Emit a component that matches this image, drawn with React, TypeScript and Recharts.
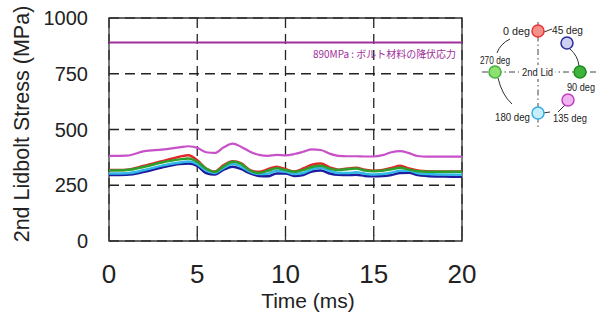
import React from 'react';
import { LineChart, Line, XAxis, YAxis, CartesianGrid, ReferenceLine, ReferenceArea, Label } from 'recharts';

const times = [0, 1, 2, 3, 4, 4.5, 5, 5.5, 6, 6.5, 7, 7.5, 8, 8.5, 9, 9.5, 10, 10.5, 11, 11.5, 12, 12.5, 13, 13.5, 14, 14.5, 15, 15.5, 16, 16.5, 17, 17.5, 18, 19, 20];

const deg0 = [318, 320, 338, 358, 378, 385, 362, 325, 312, 340, 358, 348, 318, 310, 322, 333, 322, 312, 325, 342, 348, 330, 320, 325, 328, 320, 315, 318, 328, 337, 325, 316, 313, 312, 312];
const deg45 = [296, 297, 310, 330, 345, 347, 337, 305, 298, 320, 333, 322, 303, 292, 290, 303, 303, 292, 296, 312, 316, 303, 297, 296, 297, 292, 290, 291, 296, 305, 306, 296, 292, 289, 288];
const deg90 = [316, 318, 333, 352, 366, 370, 355, 325, 310, 335, 355, 345, 315, 305, 315, 326, 318, 310, 318, 332, 337, 325, 318, 322, 325, 316, 313, 315, 322, 328, 320, 313, 311, 311, 310];
const deg135 = [382, 383, 403, 410, 420, 425, 418, 398, 395, 420, 437, 422, 400, 386, 382, 386, 384, 390, 400, 411, 408, 392, 382, 380, 380, 379, 379, 385, 398, 403, 394, 381, 378, 378, 378];
const deg180 = [303, 304, 318, 338, 352, 356, 345, 315, 305, 328, 345, 333, 310, 300, 302, 315, 310, 300, 305, 322, 328, 315, 305, 305, 308, 302, 298, 300, 306, 315, 315, 304, 300, 298, 297];

const xTicks = [0, 5, 10, 15, 20];
const yTicks = [0, 250, 500, 750, 1000];
const yieldStress = 890;
const yieldLabel = '890MPa : ボルト材料の降伏応力';

const data = times.map((t, i) => ({
  t,
  d0: deg0[i],
  d45: deg45[i],
  d90: deg90[i],
  d135: deg135[i],
  d180: deg180[i],
}));

const FONT = '"Liberation Sans", Arial, sans-serif';

const XTick = (props: any) => {
  const { x, y, payload } = props;
  return (
    <g>
      <line x1={x} y1={y} x2={x} y2={y - 6} stroke="#333" strokeWidth={1.3} />
      <text x={x} y={y + 42} textAnchor="middle" fontSize={26} fill="#222" fontFamily={FONT}>
        {payload.value}
      </text>
    </g>
  );
};

function LidDiagram() {
  const lbl = { fontSize: 10.5, fill: '#222', fontFamily: FONT, lengthAdjust: 'spacingAndGlyphs' as const };
  return (
    <svg width={129} height={140} viewBox="470 0 129 140" style={{ position: 'absolute', left: 470, top: 0 }}>
      <line x1={538} y1={22} x2={538} y2={128} stroke="#444" strokeWidth={1} strokeDasharray="6 3 1.5 3" />
      <line x1={482} y1={72} x2={599} y2={72} stroke="#444" strokeWidth={1} strokeDasharray="6 3 1.5 3" />
      <path d="M510 39 Q500 44 497 53" stroke="#333" fill="none" />
      <path d="M570 49 Q578 56 579 66" stroke="#333" fill="none" />
      <path d="M498 78 Q502 95 512 104" stroke="#333" fill="none" />
      <line x1={544} y1={32} x2={552} y2={29} stroke="#333" />
      <line x1={565} y1={105} x2={558} y2={112} stroke="#333" />
      <line x1={543} y1={113} x2={550} y2={112} stroke="#333" />
      <rect x={519} y={65} width={36} height={14} fill="#fff" />
      <circle cx={538} cy={31} r={6} fill="#f4928a" stroke="#e8343a" strokeWidth={1.5} />
      <circle cx={567} cy={43} r={6} fill="#cfd0f2" stroke="#2c2c9c" strokeWidth={1.5} />
      <circle cx={580} cy={72} r={6} fill="#3cb43c" stroke="#1e8a1e" strokeWidth={1.5} />
      <circle cx={568} cy={100} r={6} fill="#f0b4f0" stroke="#c040c0" strokeWidth={1.5} />
      <circle cx={538} cy={113} r={6} fill="#c8eefc" stroke="#38aee0" strokeWidth={1.5} />
      <circle cx={495} cy={72} r={6} fill="#8ee070" stroke="#48b040" strokeWidth={1.5} />
      <text x={503} y={35} textLength={27} {...lbl}>0 deg</text>
      <text x={552} y={34} textLength={31} {...lbl}>45 deg</text>
      <text x={480} y={64} textLength={30} {...lbl}>270 deg</text>
      <text x={522} y={76} textLength={31} {...lbl}>2nd Lid</text>
      <text x={567} y={91} textLength={28} {...lbl}>90 deg</text>
      <text x={495} y={121} textLength={35} {...lbl}>180 deg</text>
      <text x={553} y={122} textLength={34} {...lbl}>135 deg</text>
    </svg>
  );
}

export default function App() {
  return (
    <div style={{ position: 'absolute', left: 0, top: 0, width: 599, height: 320, background: '#fff' }}>
      <LineChart width={482} height={320} data={data} margin={{ top: 18, right: 20, bottom: 0, left: 0 }}>
        <CartesianGrid stroke="#222" strokeWidth={1.3} strokeDasharray="10 6" />
        <XAxis
          dataKey="t"
          type="number"
          domain={[0, 20]}
          ticks={xTicks}
          height={79}
          axisLine={false}
          tickLine={false}
          tickSize={0}
          tickMargin={0}
          tick={<XTick />}
        >
          <Label
            content={() => (
              <text x={308} y={308} textAnchor="middle" fontSize={21} fill="#222" fontFamily={FONT}>
                Time (ms)
              </text>
            )}
          />
        </XAxis>
        <YAxis
          type="number"
          domain={[0, 1000]}
          ticks={yTicks}
          width={109}
          axisLine={false}
          tickLine={false}
          tickSize={0}
          tickMargin={21}
          tick={{ fontSize: 20, fill: '#222', fontFamily: FONT }}
        >
          <Label
            content={() => (
              <text
                x={22}
                y={124}
                transform="rotate(-90 22 124)"
                textAnchor="middle"
                dominantBaseline="central"
                fontSize={21.5}
                fill="#222"
                fontFamily={FONT}
              >
                2nd Lidbolt Stress (MPa)
              </text>
            )}
          />
        </YAxis>
        <ReferenceArea x1={0} x2={20} y1={0} y2={1000} fill="none" stroke="#333" strokeWidth={1.3} />
        <ReferenceLine
          y={yieldStress}
          stroke="#a0309a"
          strokeWidth={2}
          label={(p: any) => {
            const vb = p.viewBox || {};
            return (
              <text
                x={vb.x + vb.width - 149}
                y={vb.y + 15}
                fontSize={10.5}
                fill="#a0309a"
                fontFamily='"Noto Sans CJK JP", sans-serif'
                textLength={143}
                lengthAdjust="spacingAndGlyphs"
              >
                {yieldLabel}
              </text>
            );
          }}
        />
        <Line type="monotone" dataKey="d135" stroke="#c850c8" strokeWidth={2.2} dot={false} isAnimationActive={false} />
        <Line type="monotone" dataKey="d45" stroke="#1c1c9c" strokeWidth={2.5} dot={false} isAnimationActive={false} />
        <Line type="monotone" dataKey="d180" stroke="#30b8e8" strokeWidth={2.5} dot={false} isAnimationActive={false} />
        <Line type="monotone" dataKey="d0" stroke="#e02828" strokeWidth={2.5} dot={false} isAnimationActive={false} />
        <Line type="monotone" dataKey="d90" stroke="#2ca02c" strokeWidth={2.5} dot={false} isAnimationActive={false} />
      </LineChart>
      <LidDiagram />
    </div>
  );
}
